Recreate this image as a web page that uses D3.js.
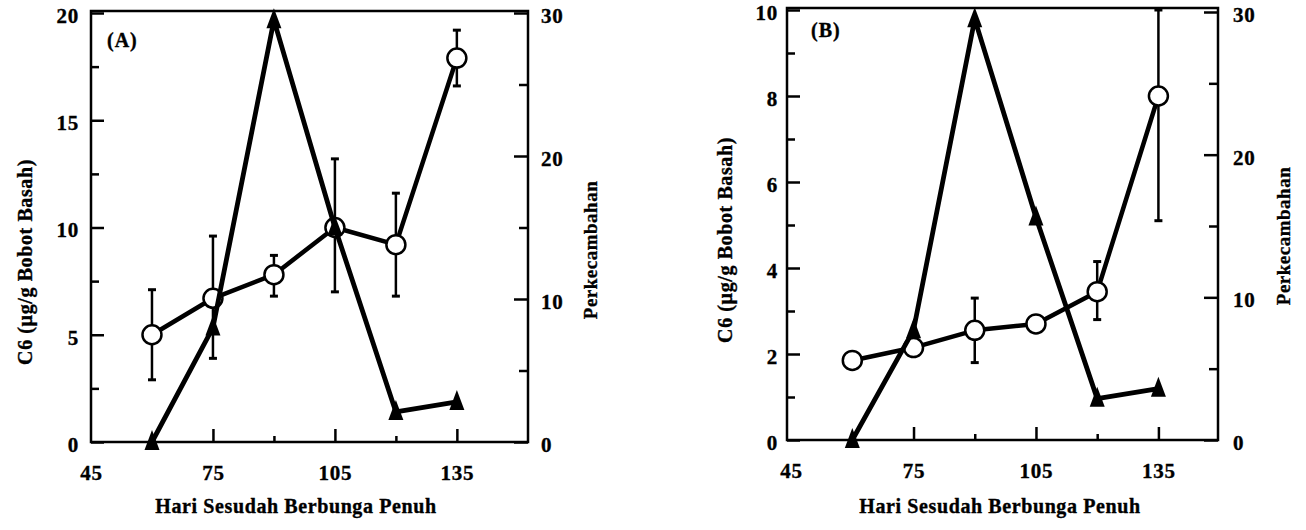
<!DOCTYPE html>
<html>
<head>
<meta charset="utf-8">
<script src="https://cdn.jsdelivr.net/npm/d3@7"></script>
<style>
  body { margin: 0; background: #fff; }
  text { font-family: "Liberation Serif", "DejaVu Serif", serif; font-weight: bold; fill: #000;
         stroke: #000; stroke-width: 0.35px; }
</style>
</head>
<body>
<div id="chart"></div>
<script>
// sampling days (x)
var days = [60, 75, 90, 105, 120, 135];

// panel A: C6 content (left axis) with error bars, germination (right axis)
var c6A     = [5.0, 6.7, 7.8, 10.0, 9.2, 17.9];
var c6ALow  = [2.9, 3.9, 6.8, 7.0, 6.8, 16.6];
var c6AHigh = [7.1, 9.6, 8.7, 13.2, 11.6, 19.2];
var germA   = [0, 8.0, 29.5, 15.0, 2.1, 2.8];

// panel B
var c6B     = [1.85, 2.15, 2.55, 2.7, 3.45, 8.0];
var c6BLow  = [null, null, 1.8, null, 2.8, 5.1];
var c6BHigh = [null, null, 3.3, null, 4.15, 10.0];
var germB   = [0, 7.7, 29.5, 15.6, 2.9, 3.6];

// ticks
var xMajor = [75, 105, 135], xMinor = [60, 90, 120], xLabels = [45, 75, 105, 135];
var yLeftA = [0, 5, 10, 15, 20], yLeftAMinor = [2.5, 7.5, 12.5, 17.5];
var yLeftB = [0, 2, 4, 6, 8, 10], yLeftBMinor = [1, 3, 5, 7, 9];
var yRight = [0, 10, 20, 30], yRightMinor = [5, 15, 25];

var svg = d3.select("#chart").append("svg").attr("width", 1306).attr("height", 530);

function drawPanel(p) {
    var g = svg.append("g");
    var x = d3.scaleLinear().domain(p.xDomain).range([p.left, p.right]);
    var yL = d3.scaleLinear().domain([0, p.yLeftMax]).range([p.bottom, p.yLeftTop]);
    var yR = d3.scaleLinear().domain([0, 30]).range([p.bottom, p.yRightTop]);

    // frame
    g.append("rect").attr("x", p.left).attr("y", p.top)
        .attr("width", p.right - p.left).attr("height", p.bottom - p.top)
        .attr("fill", "none").attr("stroke", "#000").attr("stroke-width", 2.5);

    function styleAxis(a) {
        a.select(".domain").remove();
        a.attr("font-family", null).attr("font-size", null);
        a.selectAll(".tick line").attr("stroke", "#000").attr("stroke-width", 2.5);
        a.selectAll(".tick text").style("font-size", "21px").style("letter-spacing", "0.8px");
    }

    // left axis
    var aL = g.append("g").attr("transform", "translate(" + p.left + ",0)")
        .call(d3.axisLeft(yL).tickValues(p.yLeftTicks).tickSize(-13).tickPadding(p.leftPad).tickFormat(d3.format("d")));
    styleAxis(aL);
    aL.selectAll(".tick text").attr("dy", "0.45em");
    var aLm = g.append("g").attr("transform", "translate(" + p.left + ",0)")
        .call(d3.axisLeft(yL).tickValues(p.yLeftMinor).tickSize(-8).tickFormat(""));
    styleAxis(aLm);

    // right axis
    var aR = g.append("g").attr("transform", "translate(" + p.right + ",0)")
        .call(d3.axisRight(yR).tickValues(yRight).tickSize(-14).tickPadding(p.rightPad));
    styleAxis(aR);
    aR.selectAll(".tick text").attr("dy", "0.45em");
    var aRm = g.append("g").attr("transform", "translate(" + p.right + ",0)")
        .call(d3.axisRight(yR).tickValues(yRightMinor).tickSize(-9).tickFormat(""));
    styleAxis(aRm);

    // bottom axis: labels, major and minor ticks
    var aB = g.append("g").attr("transform", "translate(0," + p.bottom + ")")
        .call(d3.axisBottom(x).tickValues(xLabels).tickSize(0).tickPadding(23));
    styleAxis(aB);
    var aBM = g.append("g").attr("transform", "translate(0," + p.bottom + ")")
        .call(d3.axisBottom(x).tickValues(xMajor).tickSize(-13).tickFormat(""));
    styleAxis(aBM);
    var aBm = g.append("g").attr("transform", "translate(0," + p.bottom + ")")
        .call(d3.axisBottom(x).tickValues(xMinor).tickSize(-6).tickFormat(""));
    styleAxis(aBm);

    // C6 series (circles)
    var c6 = days.map(function(d, i) {
        return {x: d, y: p.c6[i], lo: p.c6Low[i], hi: p.c6High[i]};
    });
    g.append("path").datum(c6)
        .attr("d", d3.line().x(function(d) { return x(d.x); }).y(function(d) { return yL(d.y); }))
        .attr("fill", "none").attr("stroke", "#000").attr("stroke-width", 4.5).attr("stroke-linejoin", "round");

    var eb = g.selectAll(".err").data(c6.filter(function(d) { return d.lo != null; }))
        .enter().append("g").attr("class", "err");
    eb.append("line").attr("x1", function(d) { return x(d.x); }).attr("x2", function(d) { return x(d.x); })
        .attr("y1", function(d) { return yL(d.lo); }).attr("y2", function(d) { return yL(d.hi); })
        .attr("stroke", "#000").attr("stroke-width", 2.5);
    eb.selectAll(".cap").data(function(d) { return [d.lo, d.hi].map(function(v) { return {x: d.x, v: v}; }); })
        .enter().append("line")
        .attr("x1", function(d) { return x(d.x) - 4; }).attr("x2", function(d) { return x(d.x) + 4; })
        .attr("y1", function(d) { return yL(d.v); }).attr("y2", function(d) { return yL(d.v); })
        .attr("stroke", "#000").attr("stroke-width", 3);

    g.selectAll(".circ").data(c6).enter().append("circle")
        .attr("cx", function(d) { return x(d.x); }).attr("cy", function(d) { return yL(d.y); })
        .attr("r", 9.5).attr("fill", "#fff").attr("stroke", "#000").attr("stroke-width", 2.5);

    // germination series (triangles) on top
    var germ = days.map(function(d, i) { return {x: d, y: p.germ[i]}; });
    g.append("path").datum(germ)
        .attr("d", d3.line().x(function(d) { return x(d.x); }).y(function(d) { return yR(d.y); }))
        .attr("fill", "none").attr("stroke", "#000").attr("stroke-width", 4.8).attr("stroke-linejoin", "round");
    g.selectAll(".tri").data(germ).enter().append("path")
        .attr("transform", function(d) { return "translate(" + x(d.x) + "," + yR(d.y) + ")"; })
        .attr("d", "M0,-12L7.5,8L-7.5,8Z").attr("fill", "#000");

    // labels
    g.append("text").attr("x", p.tagX).attr("y", p.tagY).style("font-size", "20px")
        .style("letter-spacing", "1px").text(p.tag);
    g.append("text").attr("transform", "translate(" + p.yTitleX + "," + p.yTitleY + ") rotate(-90)")
        .attr("text-anchor", "middle").style("font-size", "20px").style("letter-spacing", "0.6px")
        .text("C6 (\u00b5g/g Bobot Basah)");
    g.append("text").attr("transform", "translate(" + p.rTitleX + "," + p.rTitleY + ") rotate(-90)")
        .attr("text-anchor", "middle").style("font-size", "19px").style("letter-spacing", "0.5px")
        .text("Perkecambahan");
    g.append("text").attr("x", p.xTitleX).attr("y", 513).attr("text-anchor", "middle")
        .style("font-size", "20px").style("letter-spacing", "0.6px")
        .text("Hari Sesudah Berbunga Penuh");
}

drawPanel({
    left: 91, right: 528, top: 11, bottom: 442,
    xDomain: [45, 152.5], yLeftMax: 20, yLeftTop: 13, yRightTop: 13,
    yLeftTicks: yLeftA, yLeftMinor: yLeftAMinor, leftPad: 12, rightPad: 13,
    c6: c6A, c6Low: c6ALow, c6High: c6AHigh, germ: germA,
    tag: "(A)", tagX: 107, tagY: 47,
    yTitleX: 32, yTitleY: 262, rTitleX: 597, rTitleY: 250, xTitleX: 296
});

drawPanel({
    left: 787, right: 1218, top: 8, bottom: 440,
    xDomain: [44, 149.6], yLeftMax: 10, yLeftTop: 10, yRightTop: 12,
    yLeftTicks: yLeftB, yLeftMinor: yLeftBMinor, leftPad: 9, rightPad: 15,
    c6: c6B, c6Low: c6BLow, c6High: c6BHigh, germ: germB,
    tag: "(B)", tagX: 811, tagY: 37,
    yTitleX: 732, yTitleY: 240, rTitleX: 1290, rTitleY: 236, xTitleX: 1000
});
</script>
</body>
</html>
